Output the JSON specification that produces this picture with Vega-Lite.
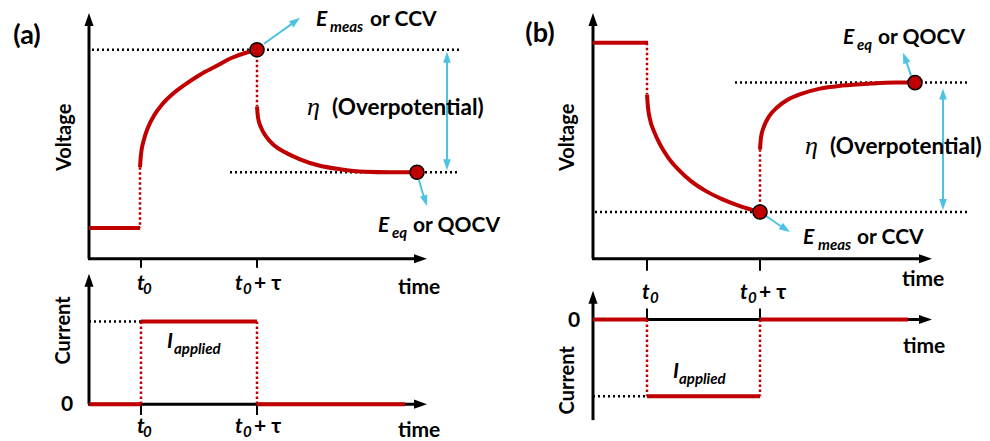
{
  "$schema": "https://vega.github.io/schema/vega-lite/v6.json",
  "width": 990,
  "height": 441,
  "padding": 0,
  "autosize": {"type": "fit", "contains": "padding"},
  "background": "white",
  "config": {"view": {"stroke": null}},
  "datasets": {
    "axes": [
      {"x": 89, "y": 260, "x2": 89, "y2": 20},
      {"x": 88, "y": 260, "x2": 421, "y2": 260},
      {"x": 89, "y": 406, "x2": 89, "y2": 282},
      {"x": 88, "y": 406, "x2": 421, "y2": 406},
      {"x": 593, "y": 260, "x2": 593, "y2": 20},
      {"x": 592, "y": 260, "x2": 926, "y2": 260},
      {"x": 593, "y": 422, "x2": 593, "y2": 299},
      {"x": 593, "y": 321, "x2": 926, "y2": 321}
    ],
    "ticks": [
      {"x": 141, "y": 260, "x2": 141, "y2": 269},
      {"x": 257, "y": 260, "x2": 257, "y2": 269},
      {"x": 141, "y": 406, "x2": 141, "y2": 417},
      {"x": 257, "y": 406, "x2": 257, "y2": 417},
      {"x": 647, "y": 260, "x2": 647, "y2": 272},
      {"x": 760, "y": 260, "x2": 760, "y2": 272},
      {"x": 647, "y": 310, "x2": 647, "y2": 321},
      {"x": 760, "y": 310, "x2": 760, "y2": 321}
    ],
    "dotK": [
      {"x": 92, "y": 50, "x2": 460, "y2": 50},
      {"x": 230, "y": 173, "x2": 460, "y2": 173},
      {"x": 89, "y": 323, "x2": 141, "y2": 323},
      {"x": 595, "y": 213, "x2": 967, "y2": 213},
      {"x": 735, "y": 83, "x2": 967, "y2": 83},
      {"x": 593, "y": 398, "x2": 647, "y2": 398}
    ],
    "dotR": [
      {"x": 140, "y": 168, "x2": 140, "y2": 229},
      {"x": 257, "y": 50, "x2": 257, "y2": 107},
      {"x": 141, "y": 323, "x2": 141, "y2": 406},
      {"x": 257, "y": 323, "x2": 257, "y2": 406},
      {"x": 647, "y": 43, "x2": 647, "y2": 95},
      {"x": 760, "y": 150, "x2": 760, "y2": 213},
      {"x": 647, "y": 321, "x2": 647, "y2": 398},
      {"x": 760, "y": 321, "x2": 760, "y2": 398}
    ],
    "redSeg": [
      {"x": 89, "y": 229, "x2": 140, "y2": 229},
      {"x": 89, "y": 406, "x2": 141, "y2": 406},
      {"x": 141, "y": 323, "x2": 257, "y2": 323},
      {"x": 257, "y": 406, "x2": 405, "y2": 406},
      {"x": 593, "y": 43, "x2": 648, "y2": 43},
      {"x": 593, "y": 321, "x2": 647, "y2": 321},
      {"x": 647, "y": 398, "x2": 760, "y2": 398},
      {"x": 760, "y": 321, "x2": 908, "y2": 321}
    ],
    "curves": [
      {"seg": "a1", "i": 0, "x": 140, "y": 168},
      {"seg": "a1", "i": 1, "x": 141, "y": 155},
      {"seg": "a1", "i": 2, "x": 144, "y": 140},
      {"seg": "a1", "i": 3, "x": 148, "y": 128},
      {"seg": "a1", "i": 4, "x": 154, "y": 116},
      {"seg": "a1", "i": 5, "x": 162, "y": 105},
      {"seg": "a1", "i": 6, "x": 172, "y": 95},
      {"seg": "a1", "i": 7, "x": 185, "y": 85},
      {"seg": "a1", "i": 8, "x": 200, "y": 75},
      {"seg": "a1", "i": 9, "x": 215, "y": 67},
      {"seg": "a1", "i": 10, "x": 232, "y": 58},
      {"seg": "a1", "i": 11, "x": 246, "y": 53},
      {"seg": "a1", "i": 12, "x": 257, "y": 50},
      {"seg": "a2", "i": 0, "x": 257, "y": 107},
      {"seg": "a2", "i": 1, "x": 258, "y": 118},
      {"seg": "a2", "i": 2, "x": 261, "y": 128},
      {"seg": "a2", "i": 3, "x": 266, "y": 137},
      {"seg": "a2", "i": 4, "x": 274, "y": 146},
      {"seg": "a2", "i": 5, "x": 285, "y": 153},
      {"seg": "a2", "i": 6, "x": 300, "y": 160},
      {"seg": "a2", "i": 7, "x": 318, "y": 166},
      {"seg": "a2", "i": 8, "x": 340, "y": 170},
      {"seg": "a2", "i": 9, "x": 365, "y": 172.5},
      {"seg": "a2", "i": 10, "x": 390, "y": 173},
      {"seg": "a2", "i": 11, "x": 417, "y": 173},
      {"seg": "b1", "i": 0, "x": 647, "y": 95},
      {"seg": "b1", "i": 1, "x": 648, "y": 108},
      {"seg": "b1", "i": 2, "x": 650, "y": 120},
      {"seg": "b1", "i": 3, "x": 654, "y": 132},
      {"seg": "b1", "i": 4, "x": 660, "y": 145},
      {"seg": "b1", "i": 5, "x": 668, "y": 158},
      {"seg": "b1", "i": 6, "x": 678, "y": 170},
      {"seg": "b1", "i": 7, "x": 691, "y": 182},
      {"seg": "b1", "i": 8, "x": 706, "y": 192},
      {"seg": "b1", "i": 9, "x": 722, "y": 200},
      {"seg": "b1", "i": 10, "x": 740, "y": 207},
      {"seg": "b1", "i": 11, "x": 760, "y": 213},
      {"seg": "b2", "i": 0, "x": 760, "y": 150},
      {"seg": "b2", "i": 1, "x": 761, "y": 138},
      {"seg": "b2", "i": 2, "x": 764, "y": 127},
      {"seg": "b2", "i": 3, "x": 769, "y": 117},
      {"seg": "b2", "i": 4, "x": 777, "y": 108},
      {"seg": "b2", "i": 5, "x": 788, "y": 100},
      {"seg": "b2", "i": 6, "x": 802, "y": 94},
      {"seg": "b2", "i": 7, "x": 820, "y": 89},
      {"seg": "b2", "i": 8, "x": 842, "y": 86},
      {"seg": "b2", "i": 9, "x": 870, "y": 84},
      {"seg": "b2", "i": 10, "x": 895, "y": 83},
      {"seg": "b2", "i": 11, "x": 915, "y": 83}
    ],
    "cyanLines": [
      {"x": 447, "y": 57, "x2": 447, "y2": 166},
      {"x": 943, "y": 95, "x2": 943, "y2": 206},
      {"x": 264, "y": 44, "x2": 296, "y2": 21},
      {"x": 419, "y": 181, "x2": 425, "y2": 202},
      {"x": 911, "y": 76, "x2": 905, "y2": 58},
      {"x": 766, "y": 217, "x2": 785, "y2": 230}
    ],
    "headsC": [
      {"x": 447, "y": 57.5, "dir": 0},
      {"x": 447, "y": 165.5, "dir": 180},
      {"x": 943, "y": 94.5, "dir": 0},
      {"x": 943, "y": 205.5, "dir": 180},
      {"x": 295.6, "y": 21.2, "dir": 54},
      {"x": 425.3, "y": 201.8, "dir": 162},
      {"x": 904.9, "y": 58.1, "dir": 339},
      {"x": 785.4, "y": 230, "dir": 123}
    ],
    "headsK": [
      {"x": 89, "y": 19.5, "dir": 0},
      {"x": 420.5, "y": 260, "dir": 90},
      {"x": 89, "y": 281.5, "dir": 0},
      {"x": 420.5, "y": 406, "dir": 90},
      {"x": 593, "y": 19.5, "dir": 0},
      {"x": 925.5, "y": 260, "dir": 90},
      {"x": 593, "y": 298.5, "dir": 0},
      {"x": 925.5, "y": 321, "dir": 90}
    ],
    "markers": [
      {"x": 257, "y": 50},
      {"x": 417, "y": 173},
      {"x": 760, "y": 213},
      {"x": 915, "y": 83}
    ],
    "panelTags": [
      {"x": 27, "y": 36, "label": "(a)"},
      {"x": 540, "y": 34, "label": "(b)"}
    ],
    "axisTitles": [
      {"x": 65, "y": 138, "label": "Voltage"},
      {"x": 568, "y": 138, "label": "Voltage"},
      {"x": 64, "y": 332, "label": "Current"},
      {"x": 568, "y": 382, "label": "Current"}
    ],
    "txtBold": [
      {"x": 370, "y": 26, "label": "or CCV"},
      {"x": 413, "y": 233, "label": "or QOCV"},
      {"x": 878, "y": 44, "label": "or QOCV"},
      {"x": 857, "y": 245, "label": "or CCV"},
      {"x": 398, "y": 295, "label": "time"},
      {"x": 398, "y": 439, "label": "time"},
      {"x": 902, "y": 287, "label": "time"},
      {"x": 903, "y": 355, "label": "time"},
      {"x": 61, "y": 413, "label": "0"},
      {"x": 568, "y": 328, "label": "0"},
      {"x": 254, "y": 291, "label": "+ τ"},
      {"x": 254, "y": 435, "label": "+ τ"},
      {"x": 759, "y": 300, "label": "+ τ"}
    ],
    "txtBig": [
      {"x": 332, "y": 116, "label": "(Overpotential)"},
      {"x": 830, "y": 155, "label": "(Overpotential)"}
    ],
    "txtItal": [
      {"x": 316, "y": 26, "label": "E"},
      {"x": 378, "y": 233, "label": "E"},
      {"x": 843, "y": 44, "label": "E"},
      {"x": 803, "y": 245, "label": "E"},
      {"x": 137, "y": 291, "label": "t"},
      {"x": 235, "y": 291, "label": "t"},
      {"x": 137, "y": 435, "label": "t"},
      {"x": 235, "y": 435, "label": "t"},
      {"x": 642, "y": 300, "label": "t"},
      {"x": 740, "y": 300, "label": "t"},
      {"x": 167, "y": 350, "label": "I"},
      {"x": 673, "y": 380, "label": "I"}
    ],
    "txtSub": [
      {"x": 330, "y": 32, "label": "meas"},
      {"x": 392, "y": 239, "label": "eq"},
      {"x": 857, "y": 50, "label": "eq"},
      {"x": 818, "y": 251, "label": "meas"},
      {"x": 143, "y": 295, "label": "0"},
      {"x": 243, "y": 295, "label": "0"},
      {"x": 143, "y": 439, "label": "0"},
      {"x": 243, "y": 439, "label": "0"},
      {"x": 650, "y": 304, "label": "0"},
      {"x": 748, "y": 304, "label": "0"},
      {"x": 174, "y": 356, "label": "applied"},
      {"x": 679, "y": 386, "label": "applied"}
    ],
    "eta": [
      {"x": 307, "y": 116, "label": "η"},
      {"x": 805, "y": 155, "label": "η"}
    ]
  },
  "encoding": {
    "x": {"field": "x", "type": "quantitative", "scale": {"domain": [0, 990], "nice": false, "zero": false}, "axis": null},
    "y": {"field": "y", "type": "quantitative", "scale": {"domain": [0, 441], "nice": false, "zero": false, "reverse": true}, "axis": null}
  },
  "layer": [
    {"data": {"name": "dotK"}, "mark": {"type": "rule", "color": "black", "strokeWidth": 2.5, "strokeDash": [2, 3]}, "encoding": {"x2": {"field": "x2"}, "y2": {"field": "y2"}}},
    {"data": {"name": "axes"}, "mark": {"type": "rule", "color": "black", "strokeWidth": 3}, "encoding": {"x2": {"field": "x2"}, "y2": {"field": "y2"}}},
    {"data": {"name": "ticks"}, "mark": {"type": "rule", "color": "black", "strokeWidth": 2}, "encoding": {"x2": {"field": "x2"}, "y2": {"field": "y2"}}},
    {"data": {"name": "headsK"}, "mark": {"type": "point", "shape": "M0,-1L-0.7,1L0.7,1Z", "filled": true, "color": "black", "size": 169, "opacity": 1}, "encoding": {"angle": {"field": "dir", "type": "quantitative", "scale": null}}},
    {"data": {"name": "dotR"}, "mark": {"type": "rule", "color": "#C00000", "strokeWidth": 2.5, "strokeDash": [2.5, 2.5]}, "encoding": {"x2": {"field": "x2"}, "y2": {"field": "y2"}}},
    {"data": {"name": "redSeg"}, "mark": {"type": "rule", "color": "#C00000", "strokeWidth": 4}, "encoding": {"x2": {"field": "x2"}, "y2": {"field": "y2"}}},
    {"data": {"name": "curves"}, "mark": {"type": "line", "color": "#C00000", "strokeWidth": 4, "interpolate": "monotone"}, "encoding": {"detail": {"field": "seg"}, "order": {"field": "i", "type": "quantitative"}}},
    {"data": {"name": "cyanLines"}, "mark": {"type": "rule", "color": "#4CC2E4", "strokeWidth": 2}, "encoding": {"x2": {"field": "x2"}, "y2": {"field": "y2"}}},
    {"data": {"name": "headsC"}, "mark": {"type": "point", "shape": "M0,-1L-0.7,1L0.7,1Z", "filled": true, "color": "#4CC2E4", "size": 121, "opacity": 1}, "encoding": {"angle": {"field": "dir", "type": "quantitative", "scale": null}}},
    {"data": {"name": "markers"}, "mark": {"type": "circle", "size": 200, "fill": "#C00000", "stroke": "black", "strokeWidth": 1.5, "opacity": 1}},
    {"data": {"name": "panelTags"}, "mark": {"type": "text", "font": "Lato", "fontWeight": "bold", "fontSize": 27, "align": "center", "baseline": "middle", "color": "black"}, "encoding": {"text": {"field": "label"}}},
    {"data": {"name": "axisTitles"}, "mark": {"type": "text", "font": "Lato", "fontWeight": "bold", "fontSize": 20, "angle": 270, "align": "center", "baseline": "middle", "color": "black"}, "encoding": {"text": {"field": "label"}}},
    {"data": {"name": "txtBold"}, "mark": {"type": "text", "font": "Lato", "fontWeight": "bold", "fontSize": 21, "align": "left", "baseline": "alphabetic", "color": "black"}, "encoding": {"text": {"field": "label"}}},
    {"data": {"name": "txtBig"}, "mark": {"type": "text", "font": "Lato", "fontWeight": "bold", "fontSize": 22.5, "align": "left", "baseline": "alphabetic", "color": "black"}, "encoding": {"text": {"field": "label"}}},
    {"data": {"name": "txtItal"}, "mark": {"type": "text", "font": "Lato", "fontWeight": "bold", "fontStyle": "italic", "fontSize": 21, "align": "left", "baseline": "alphabetic", "color": "black"}, "encoding": {"text": {"field": "label"}}},
    {"data": {"name": "txtSub"}, "mark": {"type": "text", "font": "Lato", "fontWeight": "bold", "fontStyle": "italic", "fontSize": 15, "align": "left", "baseline": "alphabetic", "color": "black"}, "encoding": {"text": {"field": "label"}}},
    {"data": {"name": "eta"}, "mark": {"type": "text", "font": "Liberation Serif", "fontStyle": "italic", "fontSize": 26, "align": "left", "baseline": "alphabetic", "color": "black"}, "encoding": {"text": {"field": "label"}}}
  ]
}
